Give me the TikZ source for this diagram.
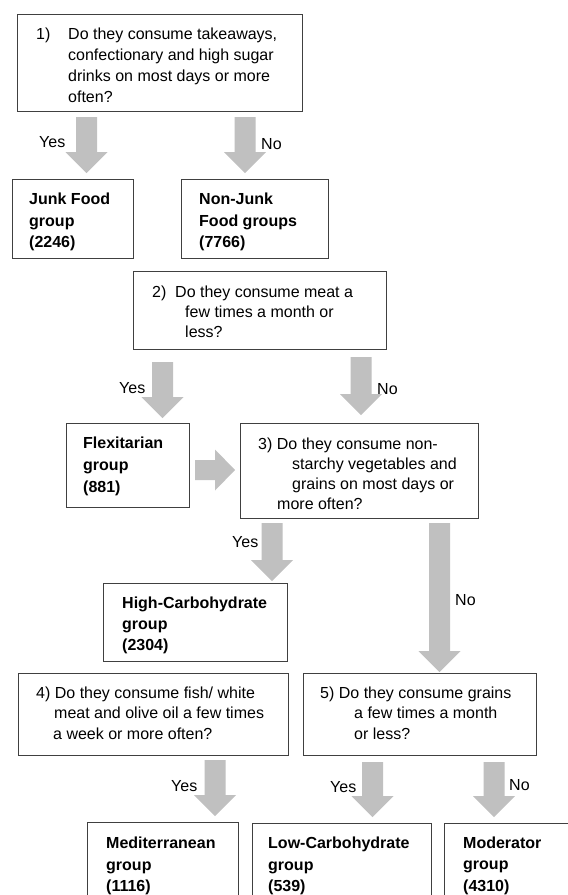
\documentclass[tikz,border=0pt]{standalone}
\usepackage{fontspec}
\setmainfont{Liberation Sans}
\usetikzlibrary{calc}
\definecolor{arrowgray}{HTML}{C0C0C0}
\definecolor{boxline}{HTML}{404040}
\tikzset{
  box/.style={draw=boxline, line width=1pt, rectangle, inner sep=0pt, fill=white},
  txt/.style={inner sep=0pt, anchor=base west, font=\fontsize{16}{19}\selectfont},
  btxt/.style={txt, font=\fontsize{16}{19}\selectfont\bfseries},
}
\newcommand\garrowdown[2]{\fill[arrowgray] let \p1=(#1), \p2=(#2) in
  ({\x1-10.5pt},\y1) -- ({\x1+10.5pt},\y1) -- ({\x1+10.5pt},{\y2+21pt}) --
  ({\x1+21pt},{\y2+21pt}) -- (\x1,\y2) -- ({\x1-21pt},{\y2+21pt}) --
  ({\x1-10.5pt},{\y2+21pt}) -- cycle;}
\newcommand\garrowright[2]{\fill[arrowgray] let \p1=(#1), \p2=(#2) in
  (\x1,{\y1+10pt}) -- ({\x2-20pt},{\y1+10pt}) -- ({\x2-20pt},{\y1+20.5pt}) --
  (\x2,\y1) -- ({\x2-20pt},{\y1-20.5pt}) -- ({\x2-20pt},{\y1-10pt}) --
  (\x1,{\y1-10pt}) -- cycle;}
\begin{document}
\begin{tikzpicture}[x=1pt,y=-1pt]
\clip (0,0) rectangle (568,895);
\fill[white] (0,0) rectangle (568,895);

% boxes
\node[box, minimum width=285pt, minimum height=97pt] (q1) at (159.5,62.5) {};
\node[box, minimum width=121pt, minimum height=79pt] (junk) at (72.5,218.5) {};
\node[box, minimum width=147pt, minimum height=79pt] (nonjunk) at (254.5,218.5) {};
\node[box, minimum width=253pt, minimum height=78pt] (q2) at (259.5,310) {};
\node[box, minimum width=123pt, minimum height=84pt] (flex) at (127.5,465) {};
\node[box, minimum width=238pt, minimum height=95pt] (q3) at (359,470.5) {};
\node[box, minimum width=184pt, minimum height=78pt] (highcarb) at (195,622) {};
\node[box, minimum width=270pt, minimum height=82pt] (q4) at (153,714) {};
\node[box, minimum width=233pt, minimum height=82pt] (q5) at (419.5,714) {};
\node[box, minimum width=151pt, minimum height=88pt] (med) at (162.5,866) {};
\node[box, minimum width=179pt, minimum height=87pt] (lowcarb) at (341.5,866.5) {};
\node[box, minimum width=146pt, minimum height=87pt] (moder) at (517,866.5) {};

% box texts
\node[txt] (q1n) at (36,39) {1)};
\node[txt] (q1a) at (68,39) {Do they consume takeaways,};
\node[txt] (q1b) at (68,60) {confectionary and high sugar};
\node[txt] (q1c) at (68,81) {drinks on most days or more};
\node[txt] (q1d) at (68,102) {often?};

\node[btxt] (j1) at (29,204) {Junk Food};
\node[btxt] (j2) at (29,226) {group};
\node[btxt] (j3) at (29,247) {(2246)};

\node[btxt] (n1) at (199,204) {Non-Junk};
\node[btxt] (n2) at (199,226) {Food groups};
\node[btxt] (n3) at (199,247) {(7766)};

\node[txt] (q2n) at (152,297) {2)};
\node[txt] (q2a) at (175,297) {Do they consume meat a};
\node[txt] (q2b) at (185,317) {few times a month or};
\node[txt] (q2c) at (185,337) {less?};

\node[btxt] (f1) at (83,448) {Flexitarian};
\node[btxt] (f2) at (83,470) {group};
\node[btxt] (f3) at (83,492) {(881)};

\node[txt] (q3a) at (258,449) {3) Do they consume non-};
\node[txt] (q3b) at (292,469) {starchy vegetables and};
\node[txt] (q3c) at (292,489) {grains on most days or};
\node[txt] (q3d) at (277,509) {more often?};

\node[btxt] (h1) at (122,608) {High-Carbohydrate};
\node[btxt] (h2) at (122,629) {group};
\node[btxt] (h3) at (122,650) {(2304)};

\node[txt] (q4a) at (36,698) {4) Do they consume fish/ white};
\node[txt] (q4b) at (54,718) {meat and olive oil a few times};
\node[txt] (q4c) at (53,739) {a week or more often?};

\node[txt] (q5a) at (320,698) {5) Do they consume grains};
\node[txt] (q5b) at (354,718) {a few times a month};
\node[txt] (q5c) at (354,739) {or less?};

\node[btxt] (m1) at (106,848) {Mediterranean};
\node[btxt] (m2) at (106,870) {group};
\node[btxt] (m3) at (106,891) {(1116)};

\node[btxt] (l1) at (268,848) {Low-Carbohydrate};
\node[btxt] (l2) at (268,870) {group};
\node[btxt] (l3) at (268,891) {(539)};

\node[btxt] (o1) at (463,848) {Moderator};
\node[btxt] (o2) at (463,869) {group};
\node[btxt] (o3) at (463,891) {(4310)};

% arrow end points
\coordinate (a1s) at (86.5,117);  \coordinate (a1e) at (86.5,173);
\coordinate (a2s) at (245,117);   \coordinate (a2e) at (245,173);
\coordinate (a3s) at (162.5,362); \coordinate (a3e) at (162.5,418);
\coordinate (a4s) at (361,357);   \coordinate (a4e) at (361,415);
\coordinate (a5s) at (195,470);   \coordinate (a5e) at (235,470);
\coordinate (a6s) at (272,523);   \coordinate (a6e) at (272,581);
\coordinate (a7s) at (439.5,523); \coordinate (a7e) at (439.5,672);
\coordinate (a8s) at (215,760);   \coordinate (a8e) at (215,816);
\coordinate (a9s) at (372.5,762); \coordinate (a9e) at (372.5,817);
\coordinate (a10s) at (494,762);  \coordinate (a10e) at (494,817);

\garrowdown{a1s}{a1e}
\garrowdown{a2s}{a2e}
\garrowdown{a3s}{a3e}
\garrowdown{a4s}{a4e}
\garrowright{a5s}{a5e}
\garrowdown{a6s}{a6e}
\garrowdown{a7s}{a7e}
\garrowdown{a8s}{a8e}
\garrowdown{a9s}{a9e}
\garrowdown{a10s}{a10e}

% labels
\node[txt] (y1) at (39,147) {Yes};
\node[txt] (n1l) at (261,149) {No};
\node[txt] (y2) at (119,393) {Yes};
\node[txt] (n2l) at (377,394) {No};
\node[txt] (y3) at (232,547) {Yes};
\node[txt] (n3l) at (455,605) {No};
\node[txt] (y4) at (171,791) {Yes};
\node[txt] (y5) at (330,792) {Yes};
\node[txt] (n4l) at (509,790) {No};
\end{tikzpicture}
\end{document}
